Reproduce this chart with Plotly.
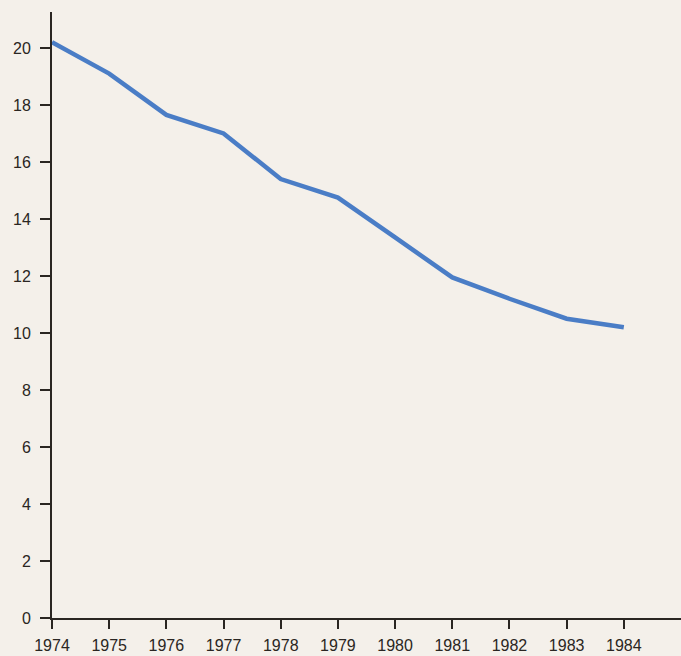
import plotly.graph_objects as go

years = [1974, 1975, 1976, 1977, 1978, 1979, 1980, 1981, 1982, 1983, 1984]
values = [20.2, 19.1, 17.65, 17.0, 15.4, 14.75, 13.35, 11.95, 11.2, 10.5, 10.2]
y_ticks = [0, 2, 4, 6, 8, 10, 12, 14, 16, 18, 20]

bg = "#f4f0ea"
ink = "#2a2622"

fig = go.Figure()
fig.add_trace(go.Scatter(
    x=years, y=values, mode="lines",
    line=dict(color="#4a7dc6", width=4.5),
    showlegend=False,
))

fig.update_layout(
    width=681, height=656,
    margin=dict(l=52, r=0, t=12, b=38),
    paper_bgcolor=bg, plot_bgcolor=bg,
    font=dict(family="Liberation Sans Narrow, Liberation Sans, Arial, sans-serif",
              size=16, color=ink),
)
fig.update_xaxes(
    range=[1974, 1985], tickvals=years, ticktext=[str(y) for y in years],
    showgrid=False, zeroline=False,
    showline=True, linecolor=ink, linewidth=2,
    ticks="outside", ticklen=9, tickwidth=1.5, tickcolor=ink,
    ticklabelstandoff=3,
)
fig.update_yaxes(
    range=[0, 21.26], tickvals=y_ticks,
    showgrid=False, zeroline=False,
    showline=True, linecolor=ink, linewidth=2,
    ticks="outside", ticklen=10, tickwidth=1.5, tickcolor=ink,
    ticklabelstandoff=6,
)

fig.write_html(
    "out.html",
    config={"displayModeBar": False},
    post_script="document.body.style.margin='0';document.body.style.background='%s';" % bg,
)
